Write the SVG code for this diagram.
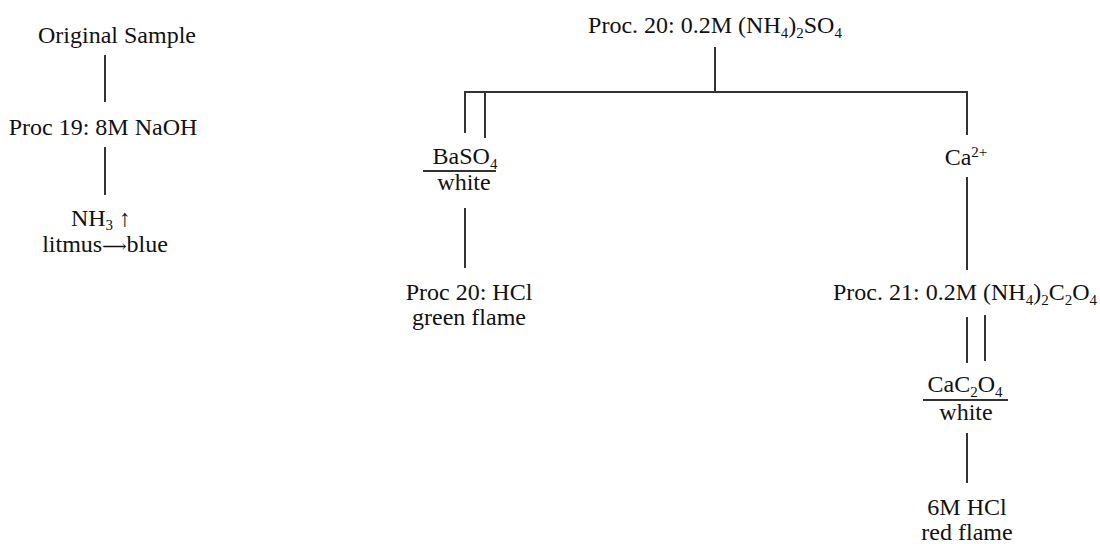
<svg xmlns="http://www.w3.org/2000/svg" width="1100" height="544" viewBox="0 0 1100 544">
<style>
text{font-family:"Liberation Serif","Times New Roman",serif;font-size:24px;fill:#111;text-anchor:middle}
.sub{font-size:15px}
.arr{font-family:"DejaVu Serif",serif;font-size:17px}
.ln{stroke:#333;stroke-width:2;fill:none}
</style>
<rect width="1100" height="544" fill="#fff"/>
<g id="connectors">
<line class="ln" x1="105" y1="55" x2="105" y2="102"/>
<line class="ln" x1="105" y1="147" x2="105" y2="195"/>
<line class="ln" x1="715" y1="47" x2="715" y2="92"/>
<polyline class="ln" points="465,133 465,92 967,92 967,135"/>
<line class="ln" x1="485" y1="92" x2="485" y2="138"/>
<line class="ln" x1="465" y1="208" x2="465" y2="268"/>
<line class="ln" x1="967" y1="177" x2="967" y2="270"/>
<line class="ln" x1="967" y1="317" x2="967" y2="363"/>
<line class="ln" x1="985" y1="315" x2="985" y2="361"/>
<line class="ln" x1="967" y1="433" x2="967" y2="483"/>
</g>
<g id="original"><text x="117" y="43">Original Sample</text></g>
<g id="proc19"><text x="103" y="135">Proc 19: 8M NaOH</text></g>
<g id="nh3"><text x="101" y="226">NH<tspan class="sub" dy="4">3</tspan><tspan dy="-4">  ↑</tspan></text><text x="105" y="252">litmus<tspan class="arr">⟶</tspan>blue</text></g>
<g id="proc20"><text x="715" y="33">Proc. 20: 0.2M (NH<tspan class="sub" dy="5">4</tspan><tspan dy="-5">)</tspan><tspan class="sub" dy="5">2</tspan><tspan dy="-5">SO</tspan><tspan class="sub" dy="5">4</tspan></text></g>
<g id="baso4"><text x="465" y="164">BaSO<tspan class="sub" dy="5">4</tspan></text><line class="ln" x1="423" y1="171" x2="496" y2="171"/><text x="464" y="190">white</text></g>
<g id="proc20hcl"><text x="469" y="300">Proc 20: HCl</text><text x="469" y="325">green flame</text></g>
<g id="ca"><text x="966" y="165">Ca<tspan class="sub" dy="-8">2+</tspan></text></g>
<g id="proc21"><text x="965" y="300">Proc. 21: 0.2M (NH<tspan class="sub" dy="5">4</tspan><tspan dy="-5">)</tspan><tspan class="sub" dy="5">2</tspan><tspan dy="-5">C</tspan><tspan class="sub" dy="5">2</tspan><tspan dy="-5">O</tspan><tspan class="sub" dy="5">4</tspan></text></g>
<g id="cac2o4"><text x="965" y="392">CaC<tspan class="sub" dy="5">2</tspan><tspan dy="-5">O</tspan><tspan class="sub" dy="5">4</tspan></text><line class="ln" x1="923" y1="400" x2="1008" y2="400"/><text x="966" y="420">white</text></g>
<g id="hcl6"><text x="967" y="515">6M HCl</text><text x="967" y="540">red flame</text></g>
</svg>
